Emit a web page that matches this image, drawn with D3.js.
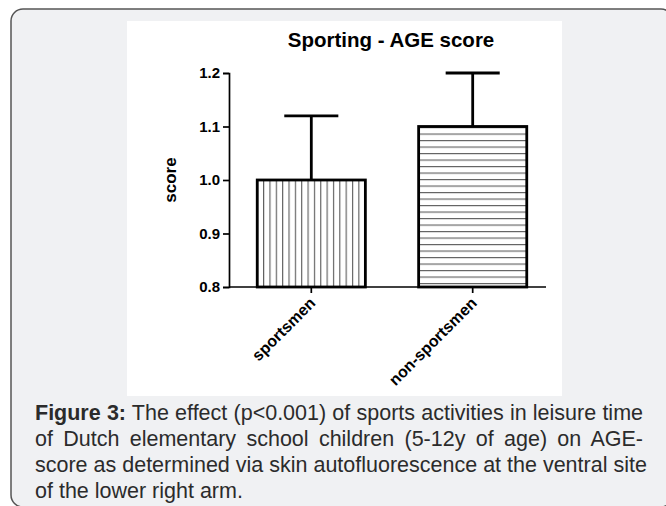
<!DOCTYPE html>
<html>
<head>
<meta charset="utf-8">
<script src="https://cdn.jsdelivr.net/npm/d3@7/dist/d3.min.js"></script>
<style>
  html, body { margin: 0; padding: 0; background: #ffffff; }
  #wrap { position: relative; width: 666px; height: 506px; overflow: hidden; }
  svg { position: absolute; left: 0; top: 0; }
  .cap { position: absolute; left: 35px; width: 608px; font-family: "Liberation Sans", Arial, sans-serif;
         font-size: 21.5px; color: #2b2b2b; white-space: nowrap; text-align: justify; text-align-last: justify; line-height: 26px; }
  .cap.last { text-align: left; text-align-last: left; }
</style>
</head>
<body>
<div id="wrap"></div>
<script>
const categories = ["sportsmen", "non-sportsmen"];
const means = [1.0, 1.1];
const errors = [0.12, 0.10];
const yTicks = [0.8, 0.9, 1.0, 1.1, 1.2];
const titleText = "Sporting - AGE score";
const yLabel = "score";
const captionLines = [
  ["Figure 3:", " The effect (p<0.001) of sports activities in leisure time"],
  ["", "of Dutch elementary school children (5-12y of age) on AGE-"],
  ["", "score as determined via skin autofluorescence at the ventral site"],
  ["", "of the lower right arm."]
];

const W = 666, H = 506;
const FONT = "Liberation Sans, Arial, sans-serif";
const wrap = d3.select("#wrap");
const svg = wrap.append("svg").attr("width", W).attr("height", H);

// outer figure box
svg.append("rect").attr("x", 11).attr("y", 9).attr("width", 662).attr("height", 498)
  .attr("rx", 12).attr("ry", 12).attr("fill", "#f0f1f3").attr("stroke", "#555").attr("stroke-width", 1.5);
// white chart panel
svg.append("rect").attr("x", 127).attr("y", 21).attr("width", 435).attr("height", 375).attr("fill", "#ffffff");

// patterns
const defs = svg.append("defs");
const pv = defs.append("pattern").attr("id", "pat0").attr("patternUnits", "userSpaceOnUse")
  .attr("width", 6.35).attr("height", 10).attr("x", 256.7);
pv.append("rect").attr("width", 6.35).attr("height", 10).attr("fill", "#fff");
pv.append("line").attr("x1", 0.5).attr("x2", 0.5).attr("y1", 0).attr("y2", 10).attr("stroke", "#606060").attr("stroke-width", 1.3);
const ph = defs.append("pattern").attr("id", "pat1").attr("patternUnits", "userSpaceOnUse")
  .attr("width", 10).attr("height", 6.5).attr("y", 127);
ph.append("rect").attr("width", 10).attr("height", 6.5).attr("fill", "#fff");
ph.append("line").attr("y1", 0.5).attr("y2", 0.5).attr("x1", 0).attr("x2", 10).attr("stroke", "#606060").attr("stroke-width", 1.3);

const x = d3.scaleBand().domain(categories).range([229, 555]).paddingInner(0.33).paddingOuter(0.175);
const y = d3.scaleLinear().domain([0.8, 1.2]).range([287, 73]);

const g = svg.append("g");
const data = categories.map((c, i) => ({ c, m: means[i], e: errors[i], i }));

// error bars
data.forEach(d => {
  const cx = x(d.c) + x.bandwidth() / 2;
  g.append("line").attr("x1", cx).attr("x2", cx).attr("y1", y(d.m)).attr("y2", y(d.m + d.e))
    .attr("stroke", "#000").attr("stroke-width", 2.8);
  g.append("line").attr("x1", cx - x.bandwidth() / 4).attr("x2", cx + x.bandwidth() / 4)
    .attr("y1", y(d.m + d.e)).attr("y2", y(d.m + d.e)).attr("stroke", "#000").attr("stroke-width", 2.8);
});

// bars
g.selectAll("rect.bar").data(data).enter().append("rect").attr("class", "bar")
  .attr("x", d => x(d.c)).attr("width", x.bandwidth())
  .attr("y", d => y(d.m)).attr("height", d => y(0.8) - y(d.m))
  .attr("fill", d => `url(#pat${d.i})`).attr("stroke", "#000").attr("stroke-width", 2.8);

// y axis
const yAxis = d3.axisLeft(y).tickValues(yTicks).tickFormat(d3.format(".1f")).tickSize(6).tickPadding(3);
const ya = svg.append("g").attr("transform", "translate(229,0)").call(yAxis);
ya.select(".domain").attr("stroke", "#000").attr("stroke-width", 1.7);
ya.selectAll(".tick line").attr("stroke", "#000").attr("stroke-width", 1.7);
ya.selectAll(".tick text").attr("font-family", FONT).attr("font-weight", "bold")
  .attr("font-size", 15).attr("fill", "#000");

// x axis
const xAxis = d3.axisBottom(x).tickSize(6).tickSizeOuter(0).tickFormat("");
const xa = svg.append("g").attr("transform", "translate(0,287)").call(xAxis);
xa.select(".domain").attr("stroke", "#000").attr("stroke-width", 1.7).attr("d", "M229,0H546");
xa.selectAll(".tick line").attr("stroke", "#000").attr("stroke-width", 1.7);
xa.selectAll(".tick").append("text")
  .attr("transform", "translate(-3,9) rotate(-45)")
  .attr("text-anchor", "end").attr("dy", "0.72em")
  .attr("font-family", FONT).attr("font-weight", "bold")
  .attr("font-size", 16).attr("fill", "#000")
  .text(d => d);

// title
svg.append("text").attr("x", (229 + 555) / 2 - 1).attr("y", 47).attr("text-anchor", "middle")
  .attr("font-family", FONT).attr("font-weight", "bold")
  .attr("font-size", 20.5).attr("fill", "#000").text(titleText);

// y label
svg.append("text").attr("transform", `translate(176,${(73 + 287) / 2}) rotate(-90)`).attr("text-anchor", "middle")
  .attr("font-family", FONT).attr("font-weight", "bold")
  .attr("font-size", 17).attr("fill", "#000").text(yLabel);

// caption
captionLines.forEach((ln, i) => {
  const div = wrap.append("div").attr("class", "cap" + (i === captionLines.length - 1 ? " last" : ""))
    .style("top", (400 + i * 26) + "px");
  if (ln[0]) div.append("b").text(ln[0]);
  div.append("span").text(ln[1]);
});
</script>
</body>
</html>
